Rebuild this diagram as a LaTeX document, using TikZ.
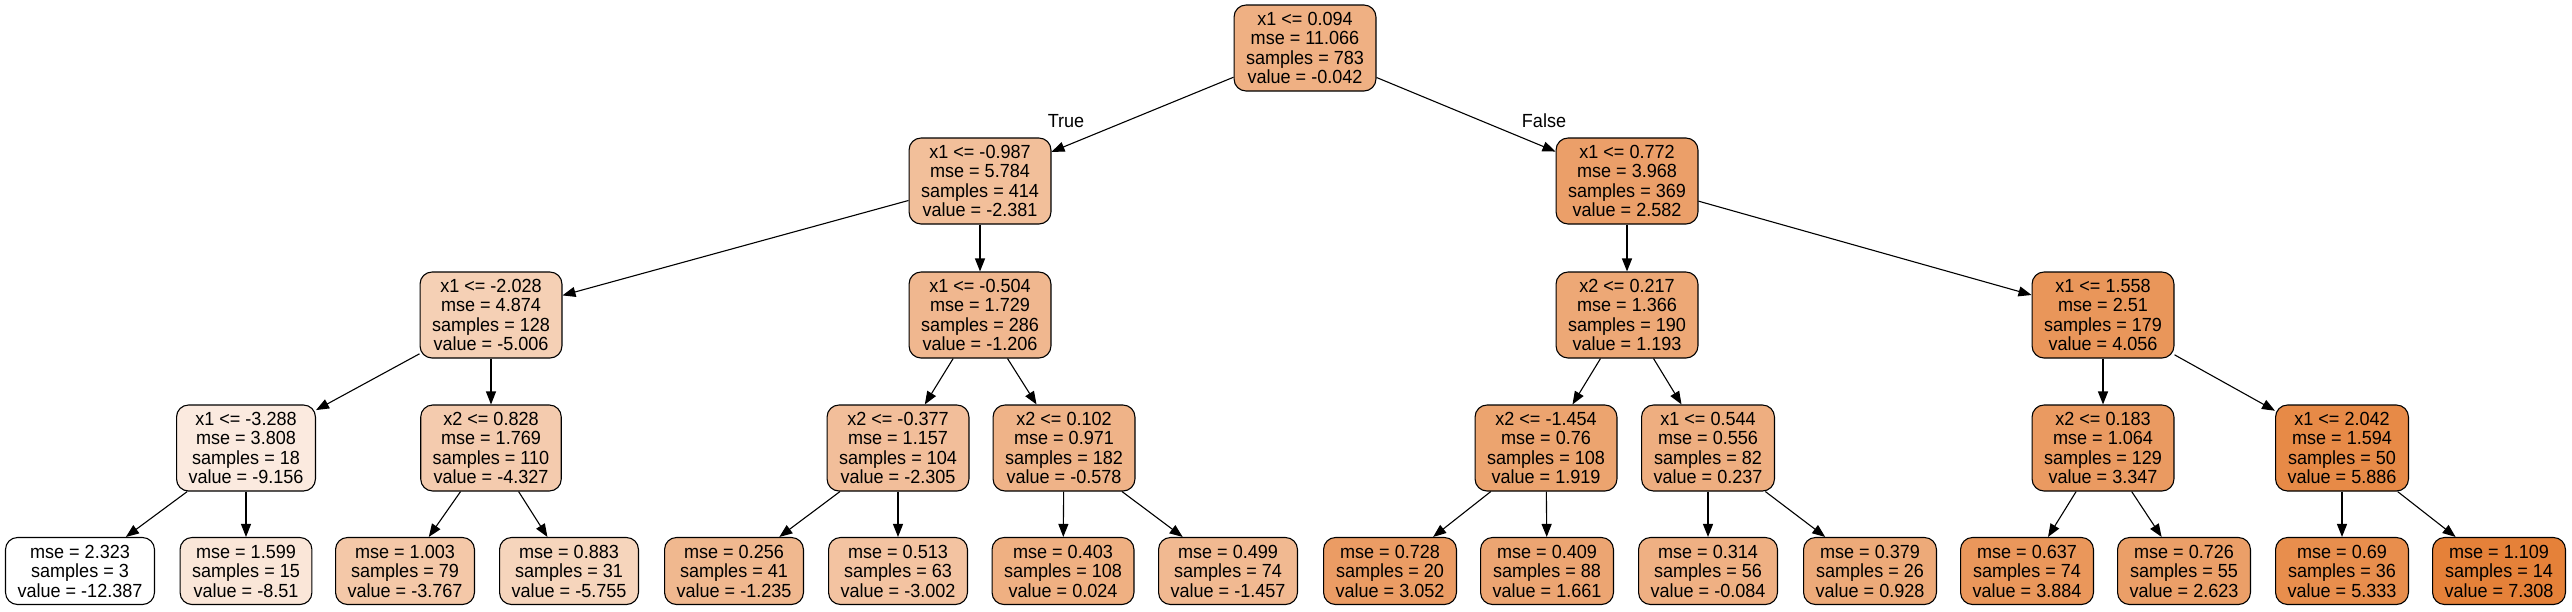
\documentclass[tikz,border=0pt]{standalone}
\usepackage{fontspec}
\setmainfont{Liberation Sans}[FakeStretch=0.95]
\usetikzlibrary{arrows.meta}
\definecolor{tc}{HTML}{E58139}
\tikzset{
  tn/.style={draw=black, line width=1.1pt, rounded corners=12pt, align=center,
    font=\fontsize{19}{19.5}\selectfont, inner xsep=12pt, inner ysep=0pt, minimum height=86pt},
  lf/.style={tn, minimum height=67pt},
  ed/.style={-{Triangle[length=13pt,width=10pt]}, line width=1.1pt},
  lbl/.style={font=\fontsize{19}{19.5}\selectfont, inner sep=0pt}
}
\begin{document}
\begin{tikzpicture}[x=1pt,y=-1pt]
\fill[white] (0,0) rectangle (2572,611);
\useasboundingbox (0,0) rectangle (2572,611);
% level 0
\node[tn, fill=tc!62.7!white] (r) at (1305,48) {x1 <= 0.094\\mse = 11.066\\samples = 783\\value = -0.042};
% level 1
\node[tn, fill=tc!50.8!white] (a) at (980,181) {x1 <= -0.987\\mse = 5.784\\samples = 414\\value = -2.381};
\node[tn, fill=tc!76.0!white] (b) at (1627,181) {x1 <= 0.772\\mse = 3.968\\samples = 369\\value = 2.582};
% level 2
\node[tn, fill=tc!37.5!white] (c) at (491,315) {x1 <= -2.028\\mse = 4.874\\samples = 128\\value = -5.006};
\node[tn, fill=tc!56.8!white] (d) at (980,315) {x1 <= -0.504\\mse = 1.729\\samples = 286\\value = -1.206};
\node[tn, fill=tc!69.0!white] (e) at (1627,315) {x2 <= 0.217\\mse = 1.366\\samples = 190\\value = 1.193};
\node[tn, fill=tc!83.5!white] (f) at (2103,315) {x1 <= 1.558\\mse = 2.51\\samples = 179\\value = 4.056};
% level 3
\node[tn, fill=tc!16.4!white] (g) at (246,448) {x1 <= -3.288\\mse = 3.808\\samples = 18\\value = -9.156};
\node[tn, fill=tc!40.9!white] (h) at (491,448) {x2 <= 0.828\\mse = 1.769\\samples = 110\\value = -4.327};
\node[tn, fill=tc!51.2!white] (i) at (898,448) {x2 <= -0.377\\mse = 1.157\\samples = 104\\value = -2.305};
\node[tn, fill=tc!60.0!white] (j) at (1064,448) {x2 <= 0.102\\mse = 0.971\\samples = 182\\value = -0.578};
\node[tn, fill=tc!72.6!white] (k) at (1546,448) {x2 <= -1.454\\mse = 0.76\\samples = 108\\value = 1.919};
\node[tn, fill=tc!64.1!white] (l) at (1708,448) {x1 <= 0.544\\mse = 0.556\\samples = 82\\value = 0.237};
\node[tn, fill=tc!79.9!white] (m) at (2103,448) {x2 <= 0.183\\mse = 1.064\\samples = 129\\value = 3.347};
\node[tn, fill=tc!92.8!white] (n) at (2342,448) {x1 <= 2.042\\mse = 1.594\\samples = 50\\value = 5.886};
% leaves
\node[lf, fill=white] (l1) at (80,571) {mse = 2.323\\samples = 3\\value = -12.387};
\node[lf, fill=tc!19.7!white] (l2) at (246,571) {mse = 1.599\\samples = 15\\value = -8.51};
\node[lf, fill=tc!43.8!white] (l3) at (405,571) {mse = 1.003\\samples = 79\\value = -3.767};
\node[lf, fill=tc!33.7!white] (l4) at (569,571) {mse = 0.883\\samples = 31\\value = -5.755};
\node[lf, fill=tc!56.6!white] (l5) at (734,571) {mse = 0.256\\samples = 41\\value = -1.235};
\node[lf, fill=tc!47.7!white] (l6) at (898,571) {mse = 0.513\\samples = 63\\value = -3.002};
\node[lf, fill=tc!63.0!white] (l7) at (1063,571) {mse = 0.403\\samples = 108\\value = 0.024};
\node[lf, fill=tc!55.5!white] (l8) at (1228,571) {mse = 0.499\\samples = 74\\value = -1.457};
\node[lf, fill=tc!78.4!white] (l9) at (1390,571) {mse = 0.728\\samples = 20\\value = 3.052};
\node[lf, fill=tc!71.3!white] (l10) at (1547,571) {mse = 0.409\\samples = 88\\value = 1.661};
\node[lf, fill=tc!62.5!white] (l11) at (1708,571) {mse = 0.314\\samples = 56\\value = -0.084};
\node[lf, fill=tc!67.6!white] (l12) at (1870,571) {mse = 0.379\\samples = 26\\value = 0.928};
\node[lf, fill=tc!82.6!white] (l13) at (2027,571) {mse = 0.637\\samples = 74\\value = 3.884};
\node[lf, fill=tc!76.2!white] (l14) at (2184,571) {mse = 0.726\\samples = 55\\value = 2.623};
\node[lf, fill=tc!90.0!white] (l15) at (2342,571) {mse = 0.69\\samples = 36\\value = 5.333};
\node[lf, fill=tc!100!white] (l16) at (2499,571) {mse = 1.109\\samples = 14\\value = 7.308};
% labels
\node[lbl] (tl) at (1066,121) {True};
\node[lbl] (fl) at (1544,121) {False};
% edges
\draw[ed] (r) -- (a);
\draw[ed] (r) -- (b);
\draw[ed] (a) -- (c);
\draw[ed] (a) -- (d);
\draw[ed] (b) -- (e);
\draw[ed] (b) -- (f);
\draw[ed] (c) -- (g);
\draw[ed] (c) -- (h);
\draw[ed] (d) -- (i);
\draw[ed] (d) -- (j);
\draw[ed] (e) -- (k);
\draw[ed] (e) -- (l);
\draw[ed] (f) -- (m);
\draw[ed] (f) -- (n);
\draw[ed] (g) -- (l1);
\draw[ed] (g) -- (l2);
\draw[ed] (h) -- (l3);
\draw[ed] (h) -- (l4);
\draw[ed] (i) -- (l5);
\draw[ed] (i) -- (l6);
\draw[ed] (j) -- (l7);
\draw[ed] (j) -- (l8);
\draw[ed] (k) -- (l9);
\draw[ed] (k) -- (l10);
\draw[ed] (l) -- (l11);
\draw[ed] (l) -- (l12);
\draw[ed] (m) -- (l13);
\draw[ed] (m) -- (l14);
\draw[ed] (n) -- (l15);
\draw[ed] (n) -- (l16);
\end{tikzpicture}
\end{document}
